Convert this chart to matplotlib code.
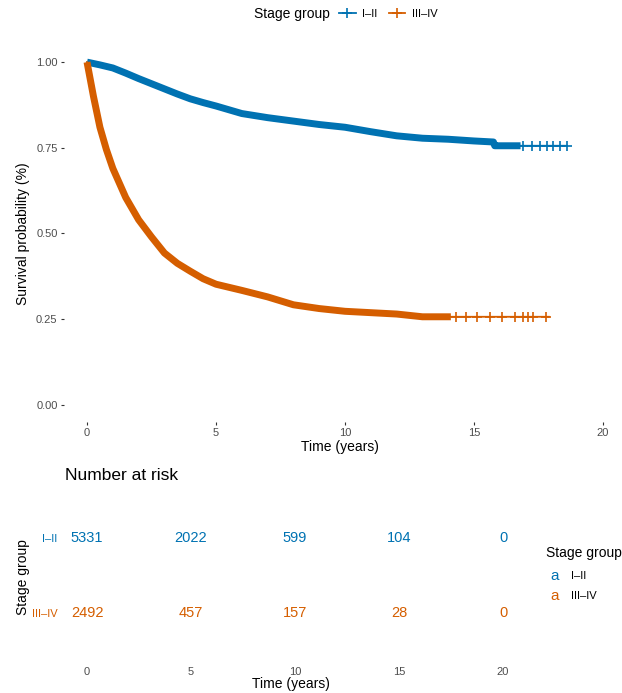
import numpy as np
import matplotlib
matplotlib.use("Agg")
import matplotlib.pyplot as plt
from matplotlib.lines import Line2D

plt.rcParams['font.family'] = ['Liberation Sans', 'DejaVu Sans']

# survival curves
t_early = [0, 0.5, 1, 1.5, 2, 2.5, 3, 3.5, 4, 4.5, 5, 6, 7, 8, 9, 10, 11, 12, 13, 14, 15, 15.75, 15.8,
           16.8, 18.6]
s_early = [1.0, 0.992, 0.983, 0.968, 0.952, 0.937, 0.922, 0.907, 0.893, 0.882, 0.872, 0.850, 0.838, 0.828,
           0.818, 0.810, 0.797, 0.785, 0.778, 0.775, 0.770, 0.767, 0.756, 0.756, 0.756]
t_late = [0, 0.25, 0.5, 0.75, 1, 1.5, 2, 2.5, 3, 3.5, 4, 4.5, 5, 6, 7, 8, 9, 10, 11, 12, 13, 14.1, 17.9]
s_late = [1.0, 0.90, 0.81, 0.745, 0.69, 0.605, 0.54, 0.49, 0.443, 0.413, 0.39, 0.368, 0.352, 0.334,
          0.315, 0.292, 0.281, 0.273, 0.269, 0.265, 0.257, 0.257, 0.257]

# sparse censor marks in the tails
cens_early = [16.9, 17.25, 17.56, 17.83, 18.07, 18.33, 18.6]
cens_late = [14.3, 14.7, 15.1, 15.6, 16.1, 16.6, 16.9, 17.1, 17.3, 17.8]
dense_end = [16.8, 14.1]

groups = ["I\u2013II", "III\u2013IV"]
colors = ["#0072B2", "#D55E00"]
risk_times = [0, 5, 10, 15, 20]
risk_early = [5331, 2022, 599, 104, 0]
risk_late = [2492, 457, 157, 28, 0]

W, H = 622, 693
fig = plt.figure(figsize=(W / 100, H / 100), dpi=100)

def box(l, t, r, b):
    return [l / W, 1 - b / H, (r - l) / W, (b - t) / H]

# ---- survival plot ----
ax = fig.add_axes(box(63.8, 45, 616, 422))
for t, s, c, cens, de in [(t_early, s_early, colors[0], cens_early, dense_end[0]),
                          (t_late, s_late, colors[1], cens_late, dense_end[1])]:
    t = np.array(t); s = np.array(s)
    ax.plot(t, s, color=c, lw=1.3, zorder=2)
    m = t <= de
    ax.plot(t[m], s[m], color=c, lw=5, solid_capstyle="butt", zorder=2)
    cs = np.interp(cens, t, s)
    ax.plot(cens, cs, ls="none", marker="+", ms=6.5, mew=1.2, color=c, zorder=3)

ax.set_xlim(-0.9, 20.5)
ax.set_ylim(-0.05, 1.05)
ax.set_xticks([0, 5, 10, 15, 20])
ax.set_yticks([0, 0.25, 0.5, 0.75, 1.0])
ax.set_yticklabels(["0.00", "0.25", "0.50", "0.75", "1.00"])
for sp in ax.spines.values():
    sp.set_visible(False)
ax.tick_params(length=2.5, width=0.8, color="#333333", labelsize=8, labelcolor="#4d4d4d", pad=2)
ax.set_xlabel("Time (years)", fontsize=10, labelpad=1)
ax.set_ylabel("Survival probability (%)", fontsize=10, labelpad=4)

# top legend
fig.text(254 / W, 1 - 14 / H, "Stage group", fontsize=10, va="center", ha="left")
handles = [Line2D([], [], color=c, lw=1.3, marker="+", ms=6.5, mew=1.2) for c in colors]
fig.legend(handles, groups, loc="center left", bbox_to_anchor=(339 / W, 1 - 14 / H), ncol=2,
           frameon=False, fontsize=8, handlelength=1.5, handletextpad=0.6, columnspacing=1.0,
           borderaxespad=0, borderpad=0)

# ---- risk table ----
tb = fig.add_axes(box(68.3, 505, 513.4, 650))
tb.set_xlim(-0.9, 20.5)
tb.set_ylim(-0.49, 1.44)
for y, vals, c in [(1, risk_early, colors[0]), (0, risk_late, colors[1])]:
    for x, v in zip(risk_times, vals):
        tb.text(x, y, str(v), color=c, fontsize=10.5, ha="center", va="center")
tb.set_xticks(risk_times)
tb.set_yticks([1, 0])
tb.set_yticklabels(groups)
for lab, c in zip(tb.get_yticklabels(), colors):
    lab.set_color(c)
for sp in tb.spines.values():
    sp.set_visible(False)
tb.tick_params(axis="x", length=0, labelsize=8, labelcolor="#4d4d4d", pad=12)
tb.tick_params(axis="y", length=0, labelsize=8, pad=8)
tb.set_xlabel("Time (years)", fontsize=10, labelpad=0)
tb.set_ylabel("Stage group", fontsize=10, labelpad=1)
fig.text(65 / W, 1 - 476 / H, "Number at risk", fontsize=12.5, va="center", ha="left")

# table legend
fig.text(546 / W, 1 - 553 / H, "Stage group", fontsize=10, va="center", ha="left")
for yy, g, c in [(576, groups[0], colors[0]), (596, groups[1], colors[1])]:
    fig.text(555 / W, 1 - yy / H, "a", color=c, fontsize=11, va="center", ha="center")
    fig.text(571 / W, 1 - yy / H, g, fontsize=8, va="center", ha="left")

fig.savefig("out.png", dpi=100)
